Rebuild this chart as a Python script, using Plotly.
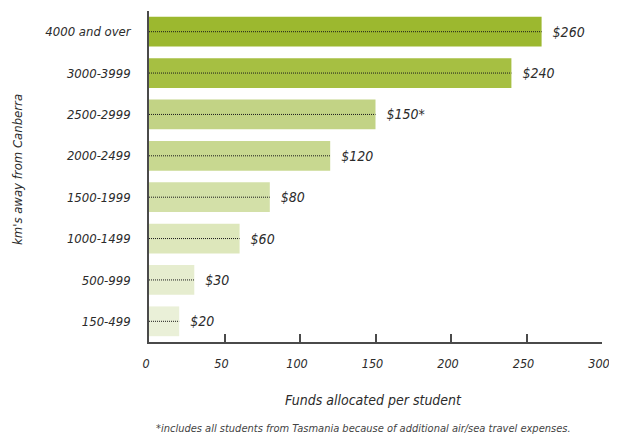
import plotly.graph_objects as go

categories = ["4000 and over", "3000-3999", "2500-2999", "2000-2499",
              "1500-1999", "1000-1499", "500-999", "150-499"]
values = [260, 240, 150, 120, 80, 60, 30, 20]
value_labels = ["$260", "$240", "$150*", "$120", "$80", "$60", "$30", "$20"]
bar_colors = ["#9cb82f", "#a6bf42", "#c2d385", "#c8d890",
              "#d3e0a8", "#dde7bb", "#e6edcf", "#eaf0d8"]
x_ticks = [0, 50, 100, 150, 200, 250, 300]

FONT = "Liberation Sans Narrow, DejaVu Sans Condensed, Roboto, sans-serif"
TXT = "#2b2b2b"

# page body has an 8px margin on every side: size the figure so the page
# does not overflow (no scrollbar) and the plot lands on the reference pixels
OFF = 8
W, H = 617 - OFF, 443 - 2 * OFF
L, R, T = 149 - OFF, 15, 11 - OFF
PH = 331
B = H - T - PH
PW = W - L - R  # 453


def py(page_y):
    """paper y for a page pixel row"""
    return (342 - page_y) / PH


fig = go.Figure()
fig.add_trace(go.Bar(
    y=categories, x=values, orientation="h",
    marker=dict(color=bar_colors, line=dict(width=0)),
    text=["  " + s for s in value_labels], textposition="outside", cliponaxis=False,
    textfont=dict(family=FONT, size=14, color=TXT, style="italic"),
    hoverinfo="skip",
))
for c, v in zip(categories, values):
    fig.add_trace(go.Scatter(
        y=[c, c], x=[0, v], mode="lines",
        line=dict(color="#1a1a1a", width=1, dash="1px,1px"),
        hoverinfo="skip", showlegend=False,
    ))

fig.update_layout(
    width=W, height=H,
    margin=dict(l=L, r=R, t=T, b=B, pad=0),
    paper_bgcolor="white", plot_bgcolor="white",
    showlegend=False, bargap=0.28,
    font=dict(family=FONT, color=TXT, size=13, style="italic"),
    xaxis=dict(
        range=[0, 300], tickvals=x_ticks, showgrid=False, zeroline=False,
        showline=True, linecolor="#4a4a4a", linewidth=1.5,
        ticks="inside", ticklen=8, tickcolor="#4a4a4a", tickwidth=1.5,
        ticklabelstandoff=9, ticklabelshift=-3, ticklabeloverflow="allow",
        tickfont=dict(family=FONT, size=12.5, color=TXT, style="italic"),
    ),
    yaxis=dict(
        categoryorder="array", categoryarray=categories[::-1],
        autorange=False, range=[-0.5, 7.5],
        showgrid=False, zeroline=False,
        showline=True, linecolor="#4a4a4a", linewidth=1.5,
        ticks="", ticklabelstandoff=14,
        tickfont=dict(family=FONT, size=13, color=TXT, style="italic"),
    ),
    annotations=[
        dict(text="Funds allocated per student", xref="paper", yref="paper",
             x=(373 - 149) / PW, y=py(400), xanchor="center", yanchor="middle",
             showarrow=False, font=dict(family=FONT, size=14, color=TXT, style="italic")),
        dict(text="km's away from Canberra", xref="paper", yref="paper",
             x=-(149 - 17) / PW, y=py(170), xanchor="center", yanchor="middle",
             textangle=-90, showarrow=False,
             font=dict(family=FONT, size=13, color=TXT, style="italic")),
        dict(text="*includes all students from Tasmania because of additional air/sea travel expenses.",
             xref="paper", yref="paper",
             x=(363 - 149) / PW, y=py(437), xanchor="center", yanchor="bottom",
             showarrow=False, font=dict(family=FONT, size=11, color="#444444", style="italic")),
    ],
)

fig.write_html("out.html", config={"displayModeBar": False})
